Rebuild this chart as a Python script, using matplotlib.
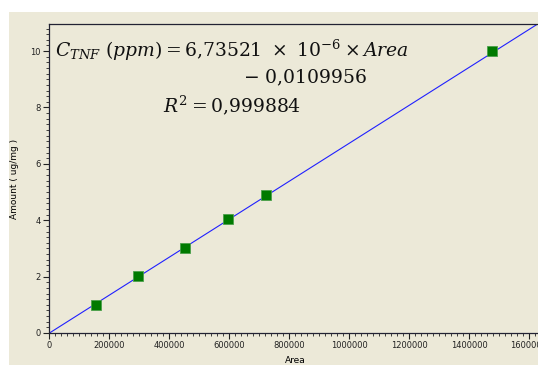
import numpy as np
import matplotlib.pyplot as plt
from matplotlib.patches import Rectangle
from matplotlib.ticker import MultipleLocator, FormatStrFormatter

# calibration standards
area = [157000, 297000, 453000, 597000, 723000, 1477000]
amount = [0.99, 2.03, 3.02, 4.05, 4.90, 10.0]

# fitted line
slope = 6.73521e-6
intercept = -0.0109956
r2 = 0.999884

plt.rcParams['mathtext.fontset'] = 'dejavuserif'
bg = '#ECE9D8'

fig = plt.figure(figsize=(5.38, 3.65), dpi=100)
fig.patch.set_facecolor('white')
fig.add_artist(Rectangle((9 / 538, 0), 1, 1 - 12 / 365, transform=fig.transFigure,
                         facecolor=bg, edgecolor='none', zorder=-10))

ax = fig.add_axes([49 / 538, 32 / 365, 492 / 538, 309 / 365])
ax.set_facecolor(bg)
ax.set_xlim(0, 1640000)
ax.set_ylim(0, 10.96)

xs = np.array([0, 1640000])
ax.plot(xs, slope * xs + intercept, color='#2020ff', lw=0.8, zorder=2)
ax.plot(area, amount, 's', ms=7, mfc='#007a00', mec='#4aa04a', mew=0.6, zorder=3)

ax.xaxis.set_major_locator(MultipleLocator(200000))
ax.xaxis.set_minor_locator(MultipleLocator(20000))
ax.xaxis.set_major_formatter(FormatStrFormatter('%d'))
ax.yaxis.set_major_locator(MultipleLocator(2))
ax.yaxis.set_minor_locator(MultipleLocator(0.2))
ax.tick_params(which='major', length=4, width=0.8, labelsize=6, pad=2, colors='#222222')
ax.tick_params(which='minor', length=2, width=0.6, colors='#222222')
for side in ['left', 'bottom', 'top', 'right']:
    ax.spines[side].set_color('#222233')
    ax.spines[side].set_linewidth(0.9)

ax.set_ylabel('Amount ( ug/mg )', fontsize=6.5, labelpad=8)
ax.set_xlabel('Area', fontsize=6.5, labelpad=4)

# regression equation, three lines
txt = dict(transform=fig.transFigure, fontsize=13.5, color='#111111', va='center')
fig.text(55 / 538, 1 - 50 / 365,
         r'$C_{TNF}\ (ppm) = 6{,}73521\ \times\ 10^{-6} \times Area$', ha='left', **txt)
fig.text(367 / 538, 1 - 78 / 365, r'$-\ 0{,}0109956$', ha='right', **txt)
fig.text(163 / 538, 1 - 105 / 365, r'$R^2 = 0{,}%s$' % str(r2)[2:], ha='left', **txt)

fig.savefig('out.png', dpi=100, facecolor=fig.get_facecolor())
